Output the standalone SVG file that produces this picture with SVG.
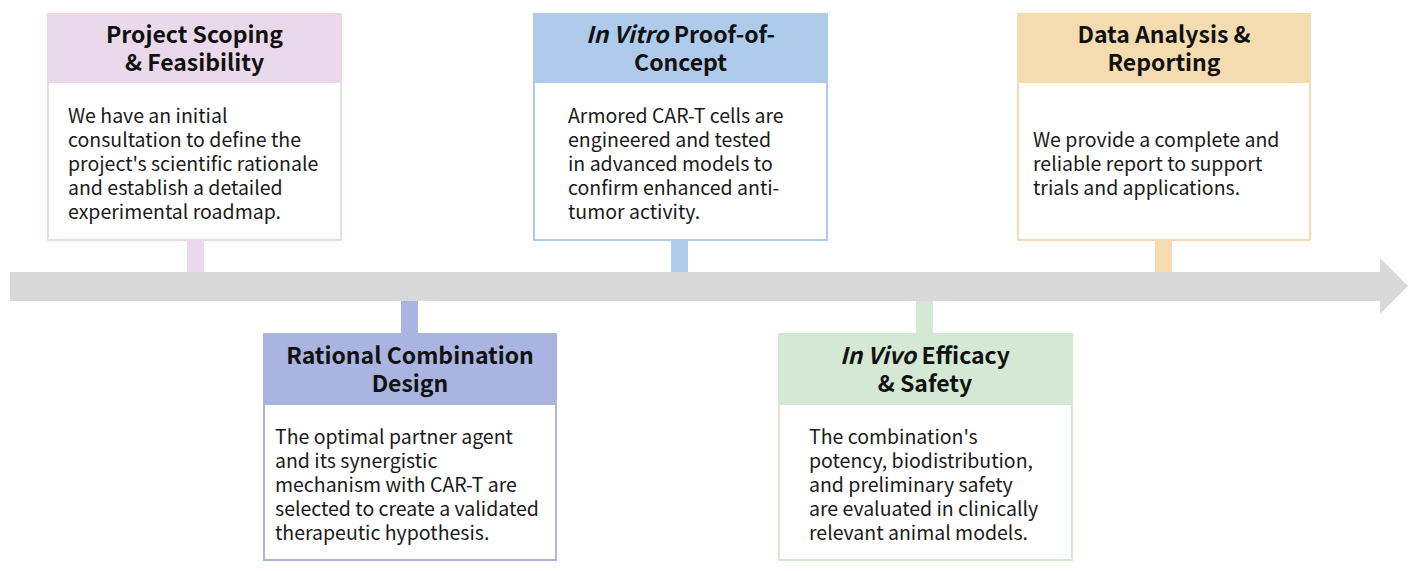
<svg xmlns="http://www.w3.org/2000/svg" width="1418" height="571" viewBox="0 0 1418 571">
<style>
.t{font-family:"Noto Sans CJK SC","Noto Sans",sans-serif;font-weight:bold;font-size:23px;fill:#111;text-anchor:middle}
.b{font-family:"Noto Sans CJK SC","Noto Sans",sans-serif;font-size:19.5px;fill:#1a1a1a}
.body{fill:#fff;stroke-width:2}
</style>
<rect width="1418" height="571" fill="#fff"/>
<g id="connectors">
<polygon points="10,272 1380,272 1380,258 1408,286 1380,314 1380,301 10,301" fill="#d9d9d9"/>
<rect x="187" y="240" width="17" height="32" fill="#ead9ea"/>
<rect x="401" y="301" width="17" height="32" fill="#aab4e0"/>
<rect x="671" y="240" width="17" height="32" fill="#aecbeb"/>
<rect x="916" y="301" width="17" height="32" fill="#d5e8d4"/>
<rect x="1155" y="240" width="17" height="32" fill="#f5dcb0"/>
</g>
<g id="n1">
<rect class="body" x="48" y="14" width="293" height="226" stroke="#ead9ea"/>
<rect x="47" y="13" width="295" height="70" fill="#ead9ea"/>
<text class="t" x="194.5" y="43">Project Scoping</text>
<text class="t" x="194.5" y="71">&amp; Feasibility</text>
<text class="b"><tspan x="68" y="123">We have an initial</tspan><tspan x="68" y="147">consultation to define the</tspan><tspan x="68" y="171">project's scientific rationale</tspan><tspan x="68" y="195">and establish a detailed</tspan><tspan x="68" y="219">experimental roadmap.</tspan></text>
</g>
<g id="n2">
<rect class="body" x="264" y="334" width="292" height="226" stroke="#aab4e0"/>
<rect x="263" y="333" width="294" height="72" fill="#aab4e0"/>
<text class="t" x="410" y="364">Rational Combination</text>
<text class="t" x="410" y="392">Design</text>
<text class="b"><tspan x="275" y="444">The optimal partner agent</tspan><tspan x="275" y="468">and its synergistic</tspan><tspan x="275" y="492">mechanism with CAR-T are</tspan><tspan x="275" y="516">selected to create a validated</tspan><tspan x="275" y="540">therapeutic hypothesis.</tspan></text>
</g>
<g id="n3">
<rect class="body" x="534" y="14" width="293" height="226" stroke="#aecbeb"/>
<rect x="533" y="13" width="295" height="70" fill="#aecbeb"/>
<text class="t" x="680.5" y="43"><tspan font-style="italic">In Vitro</tspan> Proof-of-</text>
<text class="t" x="680.5" y="71">Concept</text>
<text class="b"><tspan x="568" y="123">Armored CAR-T cells are</tspan><tspan x="568" y="147">engineered and tested</tspan><tspan x="568" y="171">in advanced models to</tspan><tspan x="568" y="195">confirm enhanced anti-</tspan><tspan x="568" y="219">tumor activity.</tspan></text>
</g>
<g id="n4">
<rect class="body" x="779" y="334" width="293" height="226" stroke="#d5e8d4"/>
<rect x="778" y="333" width="295" height="72" fill="#d5e8d4"/>
<text class="t" x="925" y="364"><tspan font-style="italic">In Vivo</tspan> Efficacy</text>
<text class="t" x="925" y="392">&amp; Safety</text>
<text class="b"><tspan x="809" y="444">The combination's</tspan><tspan x="809" y="468">potency, biodistribution,</tspan><tspan x="809" y="492">and preliminary safety</tspan><tspan x="809" y="516">are evaluated in clinically</tspan><tspan x="809" y="540">relevant animal models.</tspan></text>
</g>
<g id="n5">
<rect class="body" x="1018" y="14" width="292" height="226" stroke="#f5dcb0"/>
<rect x="1017" y="13" width="294" height="70" fill="#f5dcb0"/>
<text class="t" x="1164" y="43">Data Analysis &amp;</text>
<text class="t" x="1164" y="71">Reporting</text>
<text class="b"><tspan x="1033" y="147">We provide a complete and</tspan><tspan x="1033" y="171">reliable  report to support</tspan><tspan x="1033" y="195">trials and applications.</tspan></text>
</g>
</svg>
